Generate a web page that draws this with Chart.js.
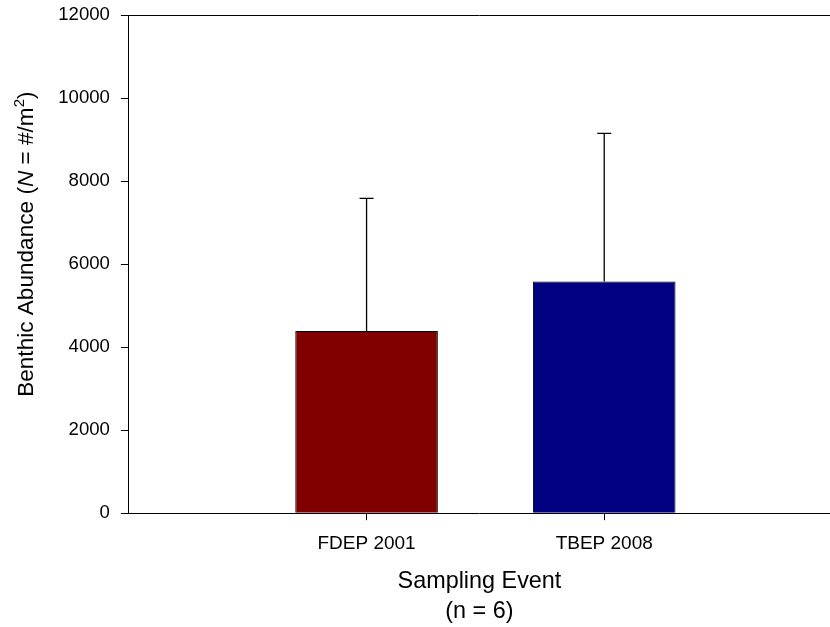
<!DOCTYPE html>
<html>
<head>
<meta charset="utf-8">
<script src="https://cdn.jsdelivr.net/npm/chart.js@4.4.0/dist/chart.umd.min.js"></script>
<style>
    html, body { margin: 0; padding: 0; background: #fff; overflow: hidden; }
    canvas { display: block; }
</style>
</head>
<body>
<canvas id="chart" width="830" height="627"></canvas>
<script>
// data
const categories = ['FDEP 2001', 'TBEP 2008'];
const abundance = [4390, 5580];
const stdDev = [3195, 3570];
const barColors = ['#800000', '#000080'];
const yTicks = [0, 2000, 4000, 6000, 8000, 10000, 12000];

const FONT = '"Liberation Sans", Arial, sans-serif';

// positions of bars on the x scale (1, 2, ...)
function catPos(i) {
    return i + 1;
}

const errorBars = {
    id: 'errorBars',
    afterDatasetsDraw(chart) {
        const ctx = chart.ctx;
        const xs = chart.scales.x;
        const ys = chart.scales.y;
        ctx.save();
        ctx.strokeStyle = '#000';
        ctx.lineWidth = 1.3;
        for (let i = 0; i < categories.length; i++) {
            const x = xs.getPixelForValue(catPos(i));
            const yBar = ys.getPixelForValue(abundance[i]);
            const yTop = ys.getPixelForValue(abundance[i] + stdDev[i]);
            ctx.beginPath();
            ctx.moveTo(x, yBar);
            ctx.lineTo(x, yTop);
            ctx.moveTo(x - 7, yTop);
            ctx.lineTo(x + 7, yTop);
            ctx.stroke();
        }
        ctx.restore();
    }
};

// y title with italic N and superscript 2
const yTitle = {
    id: 'yTitle',
    afterDraw(chart) {
        const ctx = chart.ctx;
        const area = chart.chartArea;
        const size = 22.6;
        const parts = [
            {t: 'Benthic Abundance (', f: size + 'px ' + FONT, dy: 0},
            {t: 'N', f: 'italic ' + size + 'px ' + FONT, dy: 0},
            {t: ' = #/m', f: size + 'px ' + FONT, dy: 0},
            {t: '2', f: Math.round(size * 0.65) + 'px ' + FONT, dy: -9},
            {t: ')', f: size + 'px ' + FONT, dy: 0}
        ];
        let total = 0;
        parts.forEach(p => {
            ctx.font = p.f;
            p.w = ctx.measureText(p.t).width;
            total += p.w;
        });
        const cy = area.top + (area.bottom - area.top) * 0.46;
        ctx.save();
        ctx.translate(33, cy);
        ctx.rotate(-Math.PI / 2);
        ctx.fillStyle = '#000';
        ctx.textBaseline = 'alphabetic';
        ctx.textAlign = 'left';
        let x = -total / 2;
        parts.forEach(p => {
            ctx.font = p.f;
            ctx.fillText(p.t, x, p.dy);
            x += p.w;
        });
        ctx.restore();
    }
};

new Chart(document.getElementById('chart'), {
    type: 'bar',
    data: {
        datasets: [{
            data: categories.map((c, i) => ({x: catPos(i), y: abundance[i]})),
            backgroundColor: barColors,
            borderColor: '#000',
            borderWidth: 1,
            barPercentage: 0.6,
            categoryPercentage: 1
        }]
    },
    options: {
        responsive: false,
        animation: false,
        layout: {
            padding: {left: 47.2, top: 15, right: 0, bottom: 0}
        },
        plugins: {
            legend: {display: false},
            tooltip: {enabled: false}
        },
        scales: {
            x: {
                type: 'linear',
                position: 'bottom',
                min: 0,
                max: 2.95,
                offset: false,
                afterBuildTicks: (scale) => {
                    scale.ticks = categories.map((c, i) => ({value: catPos(i)}));
                },
                ticks: {
                    font: {family: FONT, size: 19},
                    color: '#000',
                    padding: 12,
                    maxRotation: 0,
                    callback: (v) => categories[v - 1] || ''
                },
                grid: {
                    offset: false,
                    drawOnChartArea: false,
                    drawTicks: true,
                    tickLength: 7,
                    color: '#000'
                },
                border: {display: true, color: '#000', width: 1},
                title: {
                    display: true,
                    text: ['Sampling Event', '(n = 6)'],
                    color: '#000',
                    font: {family: FONT, size: 23.4, lineHeight: '30px'},
                    padding: {top: 0, bottom: 0}
                }
            },
            x2: {
                type: 'linear',
                position: 'top',
                min: 0,
                max: 1,
                ticks: {display: false},
                grid: {display: false, drawTicks: false},
                border: {display: true, color: '#000', width: 1}
            },
            y: {
                min: 0,
                max: 12000,
                afterBuildTicks: (scale) => {
                    scale.ticks = yTicks.map(v => ({value: v}));
                },
                afterFit: (scale) => {
                    // top label may hang over the padding, as in the original
                    scale.paddingTop = 0;
                },
                ticks: {
                    font: {family: FONT, size: 18.6},
                    color: '#000',
                    padding: 11,
                    callback: (v) => String(v)
                },
                grid: {
                    drawOnChartArea: false,
                    drawTicks: true,
                    tickLength: 8,
                    color: '#000'
                },
                border: {display: true, color: '#000', width: 1}
            }
        }
    },
    plugins: [errorBars, yTitle]
});
</script>
</body>
</html>
